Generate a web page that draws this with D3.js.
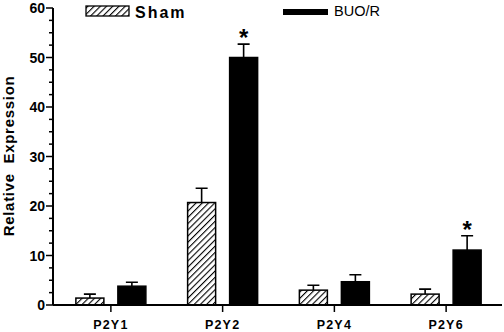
<!DOCTYPE html>
<html>
<head>
<meta charset="utf-8">
<script src="https://cdn.jsdelivr.net/npm/d3@7"></script>
<style>
  body { margin: 0; background: #fff; }
  svg { display: block; font-family: Arial, "Liberation Sans", sans-serif; }
</style>
</head>
<body>
<svg id="chart"></svg>
<script>
const categories = ["P2Y1", "P2Y2", "P2Y4", "P2Y6"];
const shamValues = [1.4, 20.7, 3.0, 2.2];
const shamErrors = [0.8, 2.9, 1.0, 1.0];
const buoValues = [3.8, 50.0, 4.7, 11.1];
const buoErrors = [0.8, 2.7, 1.4, 2.9];
const significant = [false, true, false, true];
const yTicks = [0, 10, 20, 30, 40, 50, 60];

const W = 504, H = 332;
const svg = d3.select("#chart").attr("width", W).attr("height", H);

const x = d3.scaleBand().domain(categories).range([55, 502]);
const y = d3.scaleLinear().domain([0, 60]).range([305, 8]);

const defs = svg.append("defs");
const pat = defs.append("pattern")
  .attr("id", "hatch")
  .attr("patternUnits", "userSpaceOnUse")
  .attr("width", 4.4).attr("height", 4.4)
  .attr("patternTransform", "rotate(45)");
pat.append("rect").attr("width", 4.4).attr("height", 4.4).attr("fill", "#fff");
pat.append("line")
  .attr("x1", 0).attr("y1", 0).attr("x2", 0).attr("y2", 4.4)
  .attr("stroke", "#000").attr("stroke-width", 2.2);

const barW = 28, gap = 7;
const groups = [
  { key: "sham", values: shamValues, errors: shamErrors, fill: "url(#hatch)", off: -gap - barW },
  { key: "buo", values: buoValues, errors: buoErrors, fill: "#000", off: gap }
];

const center = c => x(c) + x.bandwidth() / 2;

groups.forEach(g => {
  const data = categories.map((c, i) => ({ c, v: g.values[i], e: g.errors[i], i }));
  const gg = svg.append("g").attr("class", "bars-" + g.key);

  // error bars (upper only)
  gg.selectAll(".err")
    .data(data)
    .join("path")
    .attr("class", "err")
    .attr("d", d => {
      const cx = center(d.c) + g.off + barW / 2;
      return `M${cx},${y(d.v)}V${y(d.v + d.e)}M${cx - 6},${y(d.v + d.e)}H${cx + 6}`;
    })
    .attr("stroke", "#000").attr("stroke-width", 1.6).attr("fill", "none");

  gg.selectAll("rect")
    .data(data)
    .join("rect")
    .attr("x", d => center(d.c) + g.off)
    .attr("y", d => y(d.v))
    .attr("width", barW)
    .attr("height", d => y(0) - y(d.v))
    .attr("fill", g.fill)
    .attr("stroke", "#000")
    .attr("stroke-width", 1.5);

  if (g.key === "buo") {
    gg.selectAll(".star")
      .data(data.filter(d => significant[d.i]))
      .join("text")
      .attr("class", "star")
      .attr("x", d => center(d.c) + g.off + barW / 2)
      .attr("y", d => y(d.v + d.e) + 2)
      .attr("text-anchor", "middle")
      .attr("font-size", 24)
      .attr("font-weight", "bold")
      .text("*");
  }
});

// y axis
const yAxis = svg.append("g").attr("transform", "translate(53,0)");
yAxis.append("line")
  .attr("x1", 0).attr("x2", 0).attr("y1", y(60)).attr("y2", y(0))
  .attr("stroke", "#000").attr("stroke-width", 2);
const minor = d3.range(0, 60.1, 2.5).filter(v => v % 10 !== 0);
yAxis.selectAll(".minor")
  .data(minor)
  .join("line")
  .attr("x1", -4).attr("x2", 0)
  .attr("y1", d => y(d)).attr("y2", d => y(d))
  .attr("stroke", "#000").attr("stroke-width", 1.5);
yAxis.selectAll(".major")
  .data(yTicks)
  .join("line")
  .attr("x1", -7).attr("x2", 0)
  .attr("y1", d => y(d)).attr("y2", d => y(d))
  .attr("stroke", "#000").attr("stroke-width", 1.5);
yAxis.selectAll(".lab")
  .data(yTicks)
  .join("text")
  .attr("x", -8)
  .attr("y", d => y(d))
  .attr("dy", "0.36em")
  .attr("text-anchor", "end")
  .attr("font-size", 14)
  .attr("font-weight", "bold")
  .text(d => d);

// x axis
const xAxis = svg.append("g");
xAxis.append("line")
  .attr("x1", 53).attr("x2", 502).attr("y1", y(0)).attr("y2", y(0))
  .attr("stroke", "#000").attr("stroke-width", 2);
xAxis.selectAll(".tick")
  .data(categories)
  .join("line")
  .attr("x1", center).attr("x2", center)
  .attr("y1", y(0)).attr("y2", y(0) + 7)
  .attr("stroke", "#000").attr("stroke-width", 1.5);
xAxis.selectAll(".lab")
  .data(categories)
  .join("text")
  .attr("x", center)
  .attr("y", 329)
  .attr("text-anchor", "middle")
  .attr("font-size", 12.5)
  .attr("font-weight", "bold")
  .attr("letter-spacing", 1.2)
  .text(d => d);

// y label
svg.append("text")
  .attr("transform", "translate(14,156) rotate(-90)")
  .attr("text-anchor", "middle")
  .attr("font-size", 15)
  .attr("font-weight", "bold")
  .attr("letter-spacing", 0.7)
  .attr("xml:space", "preserve")
  .text("Relative  Expression");

// legend
const leg = svg.append("g");
leg.append("rect")
  .attr("x", 86).attr("y", 6).attr("width", 43).attr("height", 10)
  .attr("fill", "url(#hatch)").attr("stroke", "#000").attr("stroke-width", 1.3);
leg.append("text")
  .attr("x", 135).attr("y", 17.5)
  .attr("font-size", 16).attr("font-weight", "bold").attr("letter-spacing", 2)
  .text("Sham");
leg.append("rect")
  .attr("x", 283).attr("y", 9).attr("width", 45).attr("height", 6)
  .attr("fill", "#000");
leg.append("text")
  .attr("x", 334).attr("y", 15.5)
  .attr("font-size", 14.5)
  .text("BUO/R");
</script>
</body>
</html>
